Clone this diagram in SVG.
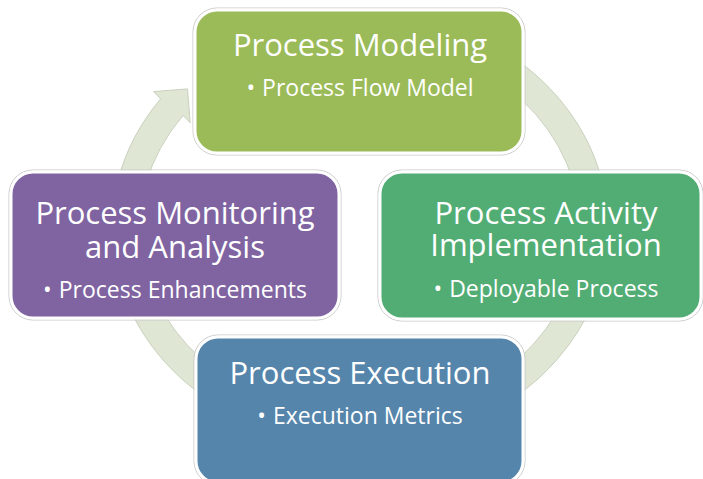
<svg xmlns="http://www.w3.org/2000/svg" width="703" height="479" viewBox="0 0 703 479">
<style>
.box{stroke:#ffffff;stroke-width:3}
.halo{fill:none;stroke:#c9c9c9;stroke-width:1}
.t{font-family:"Open Sans","Liberation Sans",sans-serif;fill:#ffffff;text-anchor:middle}
.h{font-size:31px}
.b{font-size:23px}
.ring{fill:#dfe6d4;stroke:#c9d1bd;stroke-width:1}
</style>
<rect width="703" height="479" fill="#ffffff"/>
<g id="connectors">
<path class="ring" d="M484,40.1 A248,217 0 1 1 160.6,98.9 L153.6,91.6 L187.5,88.9 L190.2,122.8 L183.1,115.5 A220,189 0 1 0 470,64.3 Z"/>
</g>
<g id="node-modeling">
<rect class="halo" x="193" y="8" width="332" height="147" rx="24"/>
<rect class="box" x="195" y="10" width="328" height="143" rx="22" fill="#9bbb59"/>
<text class="t h" x="360" y="56">Process Modeling</text>
<text class="t b" x="360" y="96"><tspan>•</tspan><tspan dx="7">Process Flow Model</tspan></text>
</g>
<g id="node-monitoring">
<rect class="halo" x="9" y="170" width="332" height="150" rx="24"/>
<rect class="box" x="11" y="172" width="328" height="146" rx="22" fill="#8064a2"/>
<text class="t h" x="175" y="224"><tspan x="175" y="224">Process Monitoring</tspan><tspan x="175" y="258">and Analysis</tspan></text>
<text class="t b" x="175" y="298"><tspan>•</tspan><tspan dx="7">Process Enhancements</tspan></text>
</g>
<g id="node-implementation">
<rect class="halo" x="378" y="170" width="325" height="151" rx="24"/>
<rect class="box" x="380" y="172" width="321" height="147" rx="22" fill="#52ad75"/>
<text class="t h" x="546" y="224"><tspan x="546" y="224">Process Activity</tspan><tspan x="546" y="256">Implementation</tspan></text>
<text class="t b" x="546" y="297"><tspan>•</tspan><tspan dx="7">Deployable Process</tspan></text>
</g>
<g id="node-execution">
<rect class="halo" x="194" y="335" width="331" height="150" rx="24"/>
<rect class="box" x="196" y="337" width="327" height="146" rx="22" fill="#5585ab"/>
<text class="t h" x="360" y="384">Process Execution</text>
<text class="t b" x="360" y="424"><tspan>•</tspan><tspan dx="7">Execution Metrics</tspan></text>
</g>
</svg>
